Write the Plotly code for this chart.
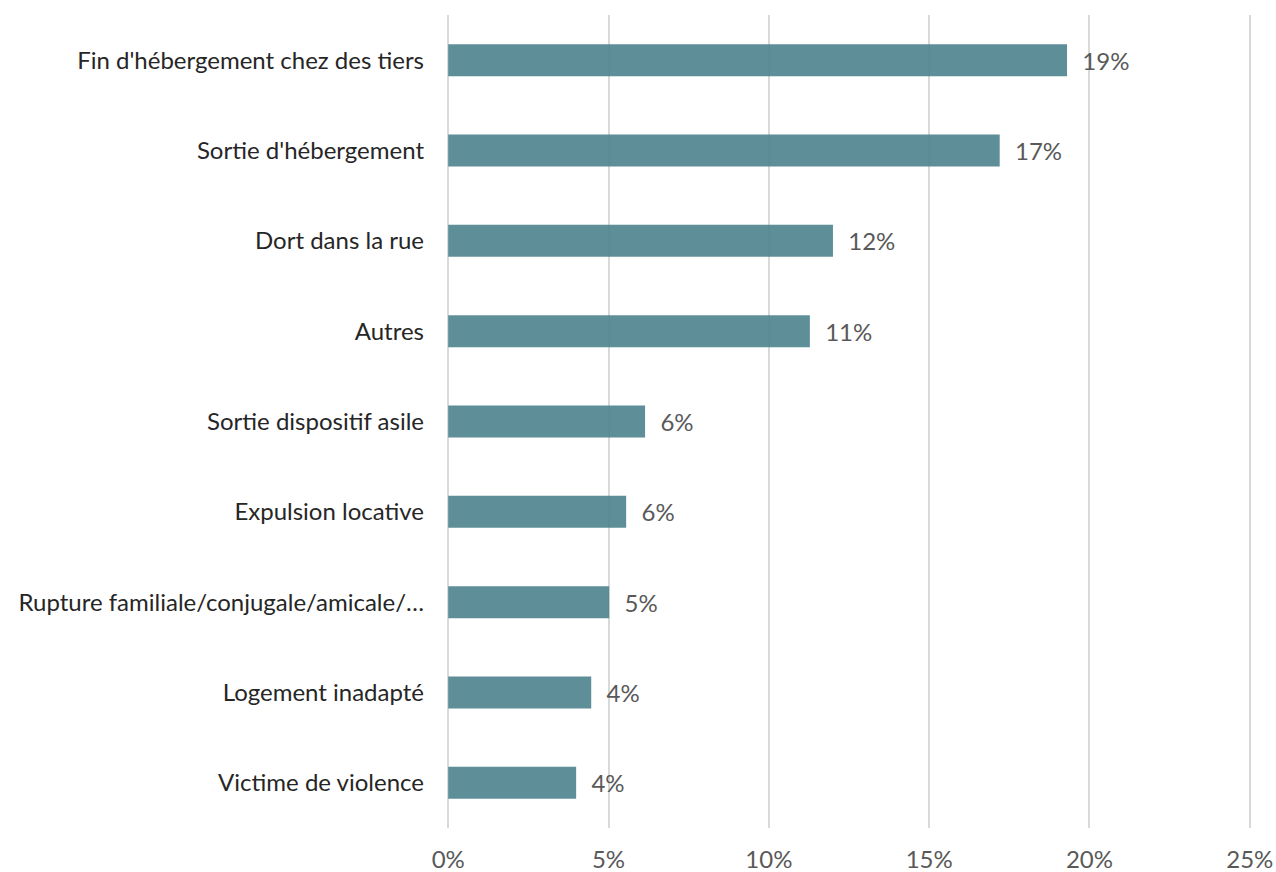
import plotly.graph_objects as go

# Motifs de la demande (part des demandes)
categories = [
    "Fin d'hébergement chez des tiers",
    "Sortie d'hébergement",
    "Dort dans la rue",
    "Autres",
    "Sortie dispositif asile",
    "Expulsion locative",
    "Rupture familiale/conjugale/amicale/…",
    "Logement inadapté",
    "Victime de violence",
]
values = [19.3, 17.2, 12.0, 11.28, 6.14, 5.55, 5.02, 4.46, 3.99]
labels = ["19%", "17%", "12%", "11%", "6%", "6%", "5%", "4%", "4%"]
tick_vals = [0, 5, 10, 15, 20, 25]
tick_text = ["0%", "5%", "10%", "15%", "20%", "25%"]

FONT = "Lato, 'Open Sans', sans-serif"

fig = go.Figure()
fig.add_trace(go.Bar(
    x=values,
    y=categories,
    orientation="h",
    marker=dict(color="rgba(80,134,143,0.92)", line=dict(width=0)),
    text=labels,
    texttemplate="\u00a0\u00a0%{text}",
    textposition="outside",
    textfont=dict(family=FONT, size=24, color="#595959"),
    cliponaxis=False,
    hoverinfo="skip",
))

fig.update_layout(
    width=1276,
    height=872,
    margin=dict(l=445, r=23, t=15, b=44),
    plot_bgcolor="white",
    paper_bgcolor="white",
    bargap=0.645,
    showlegend=False,
    font=dict(family=FONT, size=24, color="#262626"),
)
fig.update_xaxes(
    range=[-0.1, 25.1],
    tickvals=tick_vals,
    ticktext=tick_text,
    showgrid=True,
    gridcolor="#d9d9d9",
    gridwidth=2,
    zeroline=True,
    zerolinecolor="#d9d9d9",
    zerolinewidth=2,
    showline=False,
    ticks="",
    automargin=False,
    ticklabeloverflow="allow",
    ticklabelstandoff=15,
    tickfont=dict(family=FONT, size=24, color="#595959"),
)
fig.update_yaxes(
    autorange="reversed",
    showgrid=False,
    showline=False,
    ticks="",
    automargin=False,
    ticklabelstandoff=20,
    tickfont=dict(family=FONT, size=24, color="#262626"),
)

# pas de marge autour de la figure dans la page, pas de barre d'outils
fig.write_html(
    "out.html",
    config={"displayModeBar": False},
    post_script="document.body.style.margin='0';",
)
